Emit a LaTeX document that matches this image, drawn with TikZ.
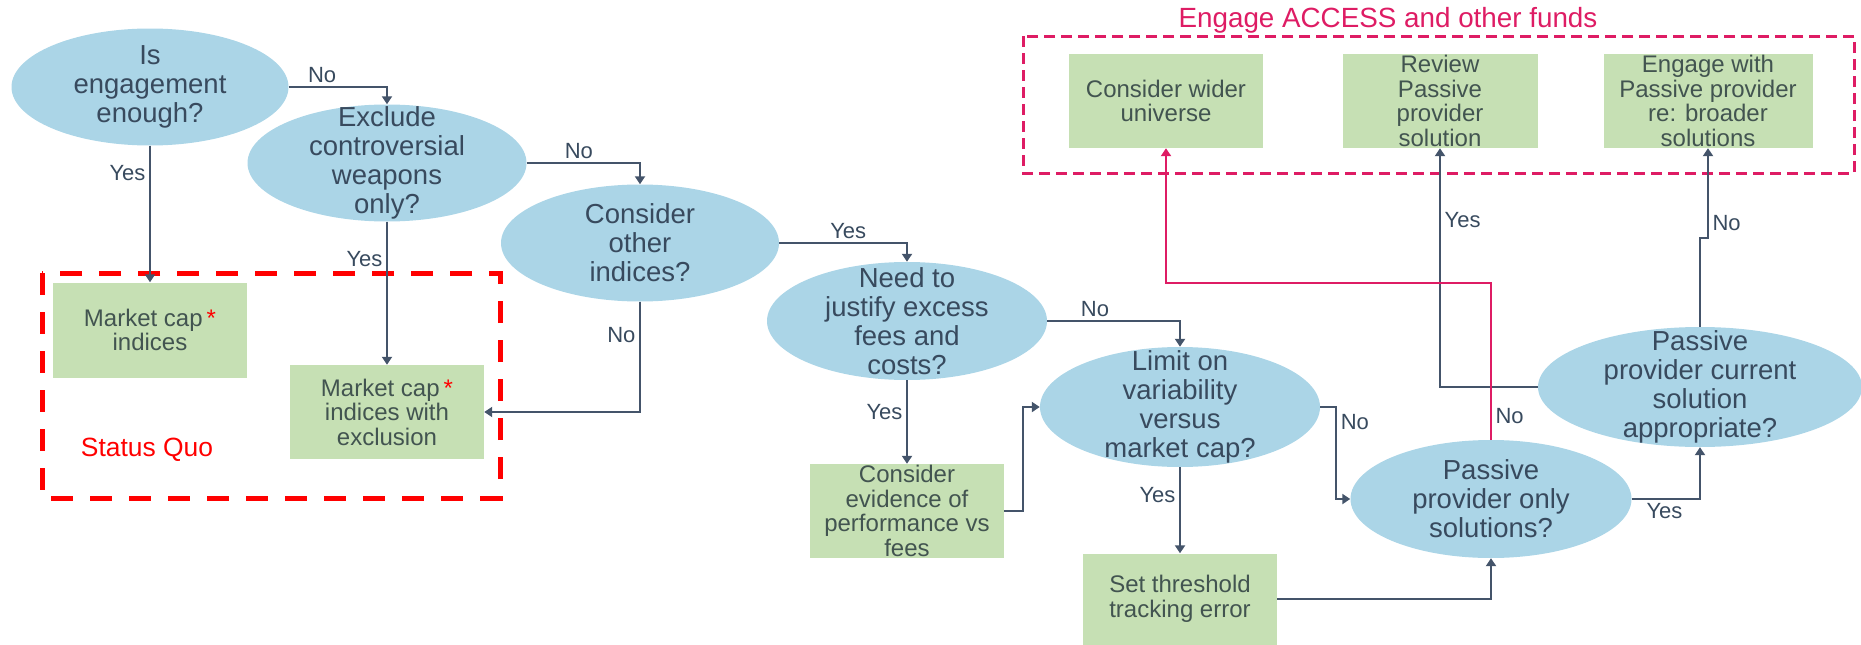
\documentclass[tikz,border=0pt]{standalone}
\usepackage{fontspec}
\setmainfont{Liberation Sans}
\usetikzlibrary{shapes.geometric,arrows.meta}
\definecolor{qblue}{RGB}{171,213,231}
\definecolor{qgreen}{RGB}{198,224,180}
\definecolor{qdark}{RGB}{68,84,106}
\definecolor{qtext}{RGB}{56,74,94}
\definecolor{qboxtext}{RGB}{66,84,80}
\definecolor{qpink}{RGB}{222,28,100}
\begin{document}
\begin{tikzpicture}[x=1pt, y=-1pt,
decision/.style={ellipse, fill=qblue, text=qtext, minimum width=279pt, minimum height=117pt, inner xsep=0pt, inner ysep=-20pt, align=center, font=\fontsize{27.5}{29}\selectfont},
action/.style={rectangle, fill=qgreen, text=qboxtext, minimum width=194pt, minimum height=94pt, inner xsep=0pt, inner ysep=-4pt, align=center, font=\fontsize{24}{24.5}\selectfont},
flow/.style={draw=qdark, line width=2.5pt, -{Triangle[length=8pt,width=10pt]}},
pinkflow/.style={draw=qpink, line width=2.5pt, -{Triangle[length=8pt,width=10pt]}},
answer/.style={text=qtext, font=\fontsize{22}{24}\selectfont},
]
\useasboundingbox (0,0) rectangle (1861,645);

\draw[red, line width=5pt, dash pattern=on 22pt off 17pt] (42,273) rectangle (500,498);
\draw[qpink, line width=3pt, dash pattern=on 11pt off 6pt] (1023,36) rectangle (1854,173);
\node[text=red, font=\fontsize{26.4}{28}\selectfont] (statusquo) at (147,450) {Status Quo};
\node[text=qpink, font=\fontsize{27.8}{30}\selectfont] (accesstitle) at (1388,20) {Engage ACCESS and other funds};

\node[decision, minimum width=277pt] (engage) at (150,87) {Is\\engagement\\enough?};
\node[decision] (exclude) at (387,163) {Exclude\\controversial\\weapons\\only?};
\node[decision, minimum width=278pt] (others) at (640,243) {Consider\\other\\indices?};
\node[decision, minimum width=280pt, minimum height=118pt] (justify) at (907,321) {Need to\\justify excess\\fees and\\costs?};
\node[decision, minimum width=280pt, minimum height=120pt] (limit) at (1180,407) {Limit on\\variability\\versus\\market cap?};
\node[decision, minimum width=281pt, minimum height=118pt] (passonly) at (1491,499) {Passive\\provider only\\solutions?};
\node[decision, minimum width=324pt, minimum height=120pt] (current) at (1700,387) {Passive\\provider current\\solution\\appropriate?};

\node[action, minimum height=95pt] (mcap) at (150,330) {Market cap\,{\color{red}*}\\indices};
\node[action] (mcapex) at (387,412) {Market cap\,{\color{red}*}\\indices with\\exclusion};
\node[action] (evidence) at (907,511) {Consider\\evidence of\\performance vs\\fees};
\node[action, minimum height=91pt] (threshold) at (1180,599) {Set threshold\\tracking error};
\node[action] (wider) at (1166,101) {Consider wider\\universe};
\node[action, minimum width=195pt] (review) at (1440,101) {Review\\Passive\\provider\\solution};
\node[action, minimum width=209pt] (broader) at (1708,101) {Engage with\\Passive provider\\re: broader\\solutions};

\draw[flow] (engage.east) -| node[answer, above, pos=0.17] {No} (exclude.north);
\draw[flow] (engage.south) -- node[answer, left, pos=0.2] {Yes} (mcap.north);
\draw[flow] (exclude.east) -| node[answer, above, pos=0.23] {No} (others.north);
\draw[flow] (exclude.south) -- node[answer, left, pos=0.26] {Yes} (mcapex.north);
\draw[flow] (others.south) |- node[answer, left, pos=0.15] {No} (mcapex.east);
\draw[flow] (others.east) -| node[answer, above, pos=0.27] {Yes} (justify.north);
\draw[flow] (justify.south) -- node[answer, left, pos=0.38] {Yes} (evidence.north);
\draw[flow] (justify.east) -| node[answer, above, pos=0.18] {No} (limit.north);
\draw[flow] (evidence.east) -- ++(19,0) |- (limit.west);
\draw[flow] (limit.south) -- node[answer, left, pos=0.32] {Yes} (threshold.north);
\draw[flow] (limit.east) -- ++(16,0) |- node[answer, right, pos=0.08] {No} (passonly.west);
\draw[flow] (threshold.east) -| (passonly.south);
\draw[flow] (passonly.east) -| node[answer, below, pos=0.24] {Yes} (current.south);
\draw[flow] (current.west) -| node[answer, right, pos=0.85] {Yes} (review.south);
\draw[flow] (current.north) -- ++(0,-89) -| node[answer, right, pos=0.58] {No} (broader.south);
\draw[pinkflow] (passonly.north) -- node[answer, right, pos=0.15] {No} ++(0,-157) -| (wider.south);
\end{tikzpicture}
\end{document}
